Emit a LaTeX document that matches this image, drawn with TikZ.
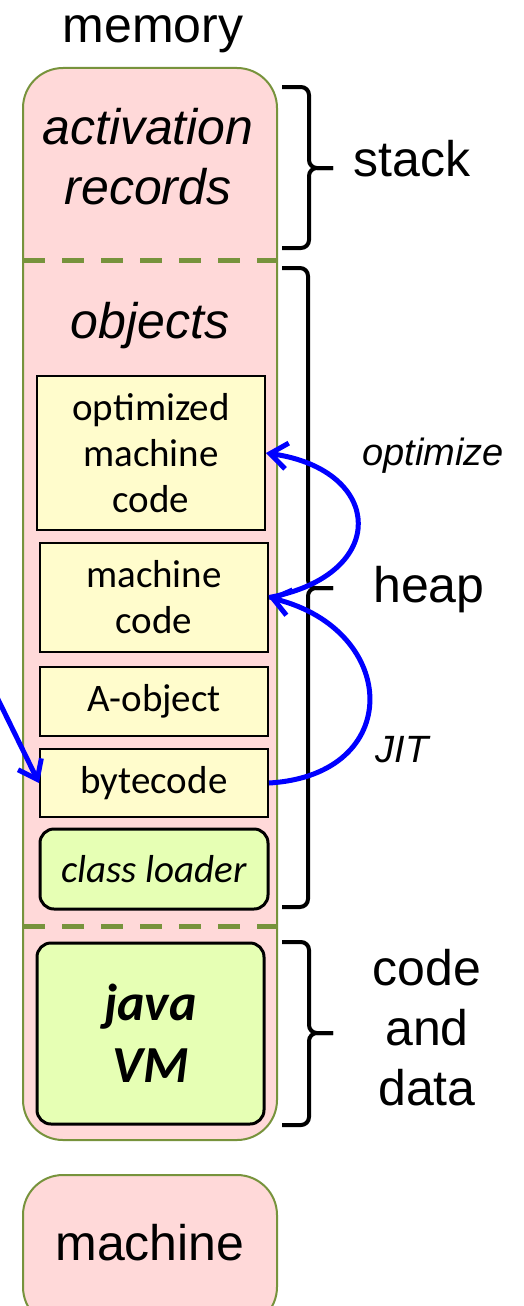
\documentclass[tikz,border=0pt]{standalone}
\usepackage{fontspec}
\setmainfont{Liberation Sans}
\newfontfamily\calfont{Carlito}
\usetikzlibrary{arrows.meta}

\definecolor{mempink}{RGB}{255,217,217}
\definecolor{memgreen}{RGB}{119,147,60}
\definecolor{codeyellow}{RGB}{255,252,204}
\definecolor{loadgreen}{RGB}{230,255,180}
\definecolor{flowblue}{RGB}{0,0,255}

\tikzset{
  bigtext/.style={font=\fontsize{50}{60}\selectfont, inner sep=0pt},
  smalltext/.style={font=\itshape\fontsize{38}{46}\selectfont, inner sep=0pt},
  region/.style={draw=memgreen, fill=mempink, line width=2pt, rounded corners=40pt, inner sep=0pt},
  codebox/.style={draw=black, fill=codeyellow, line width=2pt, align=center, inner sep=0pt,
    font=\calfont\fontsize{39}{46}\selectfont},
  loadbox/.style={draw=black, fill=loadgreen, line width=3pt, rounded corners=14pt, align=center, inner sep=0pt},
  sep/.style={memgreen, line width=5pt, dash pattern=on 22pt off 17pt},
  bracket/.style={black, line width=4pt, rounded corners=8pt},
  flow/.style={flowblue, line width=5pt, -{Straight Barb[length=17pt,width=26pt]}},
}

\begin{document}
\begin{tikzpicture}[x=1pt,y=-1pt]
        \useasboundingbox (0,0) rectangle (524,1306);
        \clip (0,0) rectangle (524,1306);

        \node[bigtext, anchor=base] (memlabel) at (153,43) {memory};
        \node[region, minimum width=254, minimum height=1072] (mem) at (150,604) {};
        \node[region, minimum width=254, minimum height=152] (mach) at (150,1251) {};
        \node[bigtext, anchor=base] (machlabel) at (150,1260) {machine};

        \draw [sep] (23,260) -- (277,260);
        \draw [sep] (23,926) -- (277,926);

        \node[bigtext, font=\itshape\fontsize{50}{60}\selectfont, align=center] (act) at (148,157) {activation\\records};
        \node[bigtext, font=\itshape\fontsize{50}{60}\selectfont, anchor=base] (obj) at (150,338) {objects};

        \node[codebox, minimum width=228, minimum height=154] (opt) at (151,453) {optimized\\machine\\code};
        \node[codebox, minimum width=228, minimum height=109] (mcode) at (154,597.5) {machine\\code};
        \node[codebox, minimum width=228, minimum height=69] (aobj) at (154,701.5) {A-object};
        \node[codebox, minimum width=228, minimum height=68] (byte) at (154,783) {bytecode};
        \node[loadbox, minimum width=228, minimum height=80, font=\calfont\itshape\fontsize{39}{46}\selectfont] (loader) at (154,869) {class loader};
        \node[loadbox, minimum width=227, minimum height=181, font=\calfont\bfseries\itshape\fontsize{52}{62}\selectfont] (jvm) at (150.5,1033.5) {java\\VM};

        \draw [bracket] (282,87) -- (309,87) -- (309,168) -- (333,168);
        \draw [bracket] (282,248) -- (309,248) -- (309,168) -- (333,168);
        \draw [bracket] (282,268) -- (308,268) -- (308,588) -- (333,588);
        \draw [bracket] (282,907) -- (308,907) -- (308,588) -- (333,588);
        \draw [bracket] (282,942) -- (309,942) -- (309,1033) -- (333,1033);
        \draw [bracket] (282,1125) -- (309,1125) -- (309,1033) -- (333,1033);

        \node[bigtext, anchor=base] (stack) at (412,176) {stack};
        \node[bigtext, anchor=base] (heap) at (429,602) {heap};
        \node[bigtext, align=center] (cad) at (427,1028) {code\\and\\data};

        \node[smalltext, anchor=base] (optlabel) at (433,465) {optimize};
        \node[smalltext, anchor=base] (jitlabel) at (402,762) {JIT};

        \coordinate (src) at (-10,683);
        \draw [flow] (src) -- (byte.west);
        \draw [flow] (byte.east) .. controls (405,775) and (400,630) .. (mcode.east);
        \draw [flow] (mcode.east) .. controls (390,575) and (385,470) .. (opt.east);

    \end{tikzpicture}
\end{document}
